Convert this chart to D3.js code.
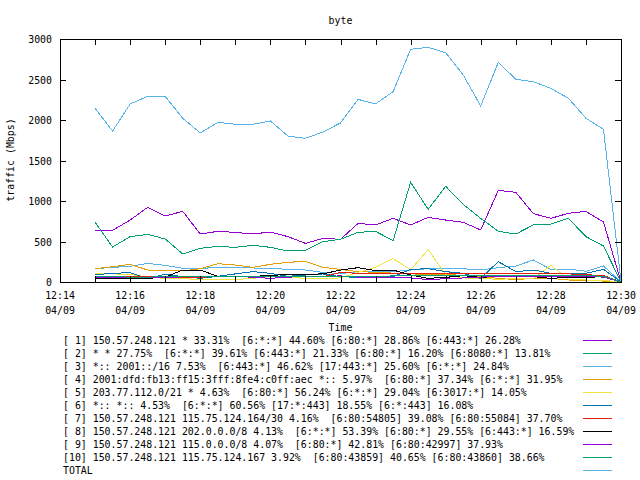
<!DOCTYPE html>
<html>
<head>
<meta charset="utf-8">
<script src="https://cdn.jsdelivr.net/npm/d3@7"></script>
<style>
  html, body { margin: 0; padding: 0; background: #fff; }
  svg { display: block; }
  text { font-family: "DejaVu Sans Mono", "Liberation Mono", monospace; font-size: 9.9px; fill: #000; white-space: pre; }
</style>
</head>
<body>
<svg id="chart" width="640" height="480"></svg>
<script>
const times = ["12:15:00","12:15:30","12:16:00","12:16:30","12:17:00","12:17:30","12:18:00","12:18:30",
  "12:19:00","12:19:30","12:20:00","12:20:30","12:21:00","12:21:30","12:22:00","12:22:30",
  "12:23:00","12:23:30","12:24:00","12:24:30","12:25:00","12:25:30","12:26:00","12:26:30",
  "12:27:00","12:27:30","12:28:00","12:28:30","12:29:00","12:29:30","12:30:00"];

const s1  = [638,638,765,922,815,872,593,625,613,593,617,560,477,539,527,724,704,786,704,798,765,737,642,1132,1107,844,786,848,872,741,0];
const s2  = [737,432,560,588,531,346,416,440,428,453,428,383,391,498,527,613,625,510,1231,897,1181,959,786,625,593,704,716,786,560,444,0];
const s3  = [164,181,193,230,206,169,164,185,177,173,169,156,148,119,103,128,128,128,148,164,164,164,148,177,197,272,156,160,132,197,0];
const s4  = [164,189,218,148,136,136,164,226,210,181,218,243,255,181,156,128,120,110,100,95,95,80,66,45,30,45,45,25,15,12,0];
const s5  = [107,100,95,60,45,40,33,30,30,45,66,60,45,45,50,120,180,290,150,400,90,50,40,35,40,40,206,33,25,20,0];
const s6  = [90,107,115,45,95,66,45,70,100,128,107,70,86,99,66,57,66,66,156,164,128,107,45,251,128,148,107,107,107,156,0];
const s7  = [74,74,70,70,66,60,60,65,65,65,66,66,66,66,119,107,107,107,107,107,107,107,107,107,107,107,107,100,90,80,0];
const s8  = [45,45,45,45,60,148,148,70,70,70,80,95,95,100,148,177,140,148,86,45,57,78,57,70,86,66,45,57,57,66,0];
const s9  = [60,55,60,50,50,65,70,66,66,60,45,60,66,70,75,60,60,55,50,30,40,50,60,74,74,74,74,74,74,60,0];
const s10 = [66,66,60,60,66,66,66,70,66,66,66,66,66,70,70,70,70,75,80,80,80,80,80,80,80,80,80,80,80,70,0];
const total = [2144,1864,2198,2292,2292,2021,1840,1971,1947,1947,1988,1802,1774,1852,1963,2255,2198,2350,2873,2897,2831,2556,2173,2712,2502,2473,2391,2268,2021,1885,10];

const legendLabels = [
  "[ 1] 150.57.248.121 * 33.31%  [6:*:*] 44.60% [6:80:*] 28.86% [6:443:*] 26.28%",
  "[ 2] * * 27.75%  [6:*:*] 39.61% [6:443:*] 21.33% [6:80:*] 16.20% [6:8080:*] 13.81%",
  "[ 3] *:: 2001::/16 7.53%  [6:443:*] 46.62% [17:443:*] 25.60% [6:*:*] 24.84%",
  "[ 4] 2001:dfd:fb13:ff15:3fff:8fe4:c0ff:aec *:: 5.97%  [6:80:*] 37.34% [6:*:*] 31.95%",
  "[ 5] 203.77.112.0/21 * 4.63%  [6:80:*] 56.24% [6:*:*] 29.04% [6:3017:*] 14.05%",
  "[ 6] *:: *:: 4.53%  [6:*:*] 60.56% [17:*:443] 18.55% [6:*:443] 16.08%",
  "[ 7] 150.57.248.121 115.75.124.164/30 4.16%  [6:80:54805] 39.08% [6:80:55084] 37.70%",
  "[ 8] 150.57.248.121 202.0.0.0/8 4.13%  [6:*:*] 53.39% [6:80:*] 29.55% [6:443:*] 16.59%",
  "[ 9] 150.57.248.121 115.0.0.0/8 4.07%  [6:80:*] 42.81% [6:80:42997] 37.93%",
  "[10] 150.57.248.121 115.75.124.167 3.92%  [6:80:43859] 40.65% [6:80:43860] 38.66%",
  "TOTAL"
];
const colors = ["#9400d3","#009e73","#56b4e9","#e69f00","#f0e442","#0072b2","#e51e10","#000000","#9400d3","#009e73","#56b4e9"];
const yTicks = [0,500,1000,1500,2000,2500,3000];
const xTickLabels = ["12:14","12:16","12:18","12:20","12:22","12:24","12:26","12:28","12:30"];
const dateLabel = "04/09";

const seriesList = [s1,s2,s3,s4,s5,s6,s7,s8,s9,s10,total];

const svg = d3.select("#chart");
const L = 60, R = 621, T = 39, B = 282;
const parse = d3.timeParse("%H:%M:%S");
const parseHM = d3.timeParse("%H:%M");
const x = d3.scaleTime().domain([parseHM("12:14"), parseHM("12:30")]).range([L, R]);
const y = d3.scaleLinear().domain([0, 3000]).range([B, T]);

// title
svg.append("text").attr("x", (L + R) / 2).attr("y", 24).attr("text-anchor", "middle").text("byte");

// series
const line = d3.line().x((d, i) => x(parse(times[i]))).y(d => y(d));
seriesList.forEach((s, k) => {
  svg.append("path").datum(s).attr("d", line).attr("fill", "none")
    .attr("stroke", colors[k]).attr("stroke-width", 1).attr("shape-rendering", "crispEdges");
});

// border
svg.append("rect").attr("x", L + 0.5).attr("y", T + 0.5).attr("width", R - L).attr("height", B - T)
  .attr("fill", "none").attr("stroke", "#000").attr("stroke-width", 1);

// y ticks
const tl = 6;
const gy = svg.append("g");
yTicks.forEach(v => {
  const yy = Math.round(y(v)) + 0.5;
  gy.append("line").attr("x1", L).attr("x2", L + tl).attr("y1", yy).attr("y2", yy).attr("stroke", "#000");
  gy.append("line").attr("x1", R - tl).attr("x2", R).attr("y1", yy).attr("y2", yy).attr("stroke", "#000");
  gy.append("text").attr("x", 52).attr("y", y(v) + 4).attr("text-anchor", "end").text(v);
});

// x ticks every minute
const minuteTicks = x.ticks(d3.timeMinute.every(1));
minuteTicks.forEach(t => {
  const xx = Math.round(x(t)) + 0.5;
  svg.append("line").attr("x1", xx).attr("x2", xx).attr("y1", B).attr("y2", B - tl).attr("stroke", "#000");
  svg.append("line").attr("x1", xx).attr("x2", xx).attr("y1", T).attr("y2", T + tl).attr("stroke", "#000");
});
xTickLabels.forEach(lbl => {
  const xx = x(parseHM(lbl));
  svg.append("text").attr("x", xx).attr("y", 299).attr("text-anchor", "middle").text(lbl);
  svg.append("text").attr("x", xx).attr("y", 314).attr("text-anchor", "middle").text(dateLabel);
});

// axis labels
svg.append("text").attr("x", (L + R) / 2).attr("y", 331).attr("text-anchor", "middle").text("Time");
svg.append("text").attr("transform", "translate(14,160) rotate(-90)").attr("text-anchor", "middle").text("traffic (Mbps)");

// legend
legendLabels.forEach((lbl, i) => {
  const yy = 340 + i * 13;
  svg.append("text").attr("x", 63).attr("y", yy + 4).attr("xml:space", "preserve").text(lbl);
  svg.append("line").attr("x1", 583).attr("x2", 612).attr("y1", yy + 0.5).attr("y2", yy + 0.5)
    .attr("stroke", colors[i]).attr("stroke-width", 1);
});
</script>
</body>
</html>
